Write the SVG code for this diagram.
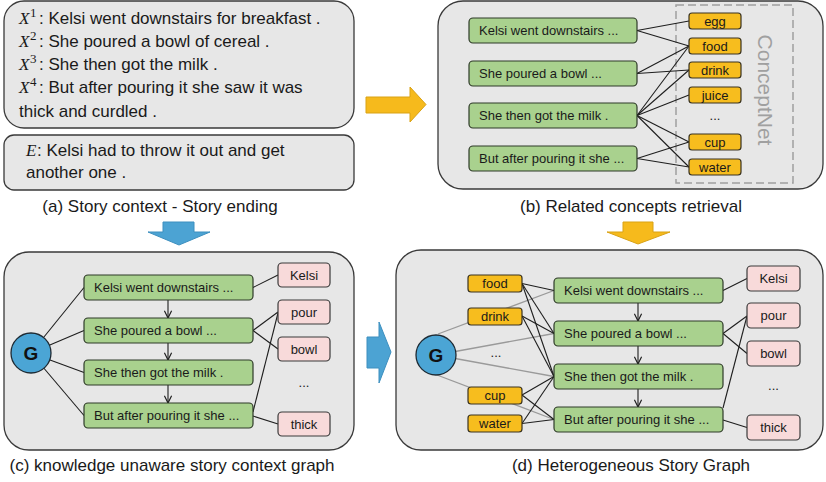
<svg xmlns="http://www.w3.org/2000/svg" width="826" height="482" viewBox="0 0 826 482">
<defs>
<style>
.panel{fill:#e7e7e7;stroke:#3a3a3a;stroke-width:1.3}
.gn{fill:#a9d18e;stroke:#2e3a28;stroke-width:1.2}
.on{fill:#f7bd1e;stroke:#3a3320;stroke-width:1.2}
.pn{fill:#f8dada;stroke:#3a3a3a;stroke-width:1.2}
.gc{fill:#4ba5d5;stroke:#1e2a33;stroke-width:1.3}
.t{font-family:"Liberation Sans",Arial,sans-serif;font-size:13px;fill:#1a1a1a}
.c{text-anchor:middle}
.big{font-family:"Liberation Sans",Arial,sans-serif;font-size:17px;fill:#1a1a1a}
.ser{font-family:"Liberation Serif","Times New Roman",serif;font-style:italic}
.sup{font-family:"Liberation Serif","Times New Roman",serif;font-size:13px}
.e{stroke:#1e1e1e;stroke-width:1.1;fill:none}
.gr{stroke:#9a9a9a;stroke-width:1.3;fill:none}
.va{stroke:#1e1e1e;stroke-width:1.1;fill:none;marker-end:url(#v)}
.ba{fill:#4ca3d3;stroke:#3d8fbf;stroke-width:1}
.ya{fill:#f6ba1c;stroke:#d9a215;stroke-width:1}
.G{font-family:"Liberation Sans",Arial,sans-serif;font-size:19px;font-weight:bold;fill:#111;text-anchor:middle}
</style>
<marker id="v" viewBox="0 0 10 10" refX="9" refY="5" markerWidth="9" markerHeight="9" markerUnits="userSpaceOnUse" orient="auto">
<path d="M1,1 L9,5 L1,9" fill="none" stroke="#1e1e1e" stroke-width="1.3"/>
</marker>
</defs>

<!-- Panel (a) -->
<g id="panel-a">
<rect class="panel" x="4" y="1" width="350" height="127" rx="20"/>
<rect class="panel" x="4" y="135" width="350" height="55" rx="10"/>
<text class="big" x="19" y="24"><tspan class="ser">X</tspan><tspan class="sup" x="30" dy="-7">1</tspan><tspan x="39" dy="7">: Kelsi went downstairs for breakfast .</tspan></text>
<text class="big" x="19" y="47"><tspan class="ser">X</tspan><tspan class="sup" x="30" dy="-7">2</tspan><tspan x="39" dy="7">: She poured a bowl of cereal .</tspan></text>
<text class="big" x="19" y="70"><tspan class="ser">X</tspan><tspan class="sup" x="30" dy="-7">3</tspan><tspan x="39" dy="7">: She then got the milk .</tspan></text>
<text class="big" x="19" y="93"><tspan class="ser">X</tspan><tspan class="sup" x="30" dy="-7">4</tspan><tspan x="39" dy="7">: But after pouring it she saw it was</tspan></text>
<text class="big" x="19" y="117">thick and curdled .</text>
<text class="big" x="26" y="156"><tspan class="ser">E</tspan><tspan x="37">: Kelsi had to throw it out and get</tspan></text>
<text class="big" x="26" y="178">another one .</text>
<text class="big c" x="160" y="212">(a) Story context - Story ending</text>
</g>

<!-- Arrows between panels -->
<g id="arrows">
<path class="ya" d="M366,97 H410 V87 L426,104.5 L410,122 V113 H366 Z"/>
<path class="ba" d="M163,222 H194 V232 H210 L179,245 L148,232 H163 Z"/>
<path class="ya" d="M623,222 H653 V232 H670 L638,244 L607,232 H623 Z"/>
<path class="ba" d="M367,337 H379 V322 L391,352 L379,383 V368 H367 Z"/>
</g>

<!-- Panel (b) -->
<g id="panel-b">
<rect class="panel" x="438" y="1" width="385" height="188" rx="25"/>
<rect x="676" y="5" width="117" height="178" fill="none" stroke="#a0a0a0" stroke-width="1.5" stroke-dasharray="8,4"/>
<text x="0" y="0" transform="translate(758,90) rotate(90)" font-family="Liberation Sans,Arial,sans-serif" font-size="21" fill="#a0a0a0" text-anchor="middle">ConceptNet</text>
<text class="big c" x="631" y="212">(b) Related concepts retrieval</text>
</g>

<g id="connectors-b">
<line class="e" x1="637" y1="30.5" x2="689" y2="21"/>
<line class="e" x1="637" y1="30.5" x2="689" y2="46"/>
<line class="e" x1="637" y1="73.5" x2="689" y2="46"/>
<line class="e" x1="637" y1="73.5" x2="689" y2="70"/>
<line class="e" x1="637" y1="115.5" x2="689" y2="46"/>
<line class="e" x1="637" y1="115.5" x2="689" y2="70"/>
<line class="e" x1="637" y1="115.5" x2="689" y2="95"/>
<line class="e" x1="637" y1="115.5" x2="689" y2="142"/>
<line class="e" x1="637" y1="115.5" x2="689" y2="167"/>
<line class="e" x1="637" y1="158.5" x2="689" y2="142"/>
<line class="e" x1="637" y1="158.5" x2="689" y2="167"/>
</g>

<g id="b-s1"><rect class="gn" x="469" y="18" width="168" height="25" rx="4"/><text class="t" x="479" y="35">Kelsi went downstairs ...</text></g>
<g id="b-s2"><rect class="gn" x="469" y="61" width="168" height="25" rx="4"/><text class="t" x="479" y="78">She poured a bowl ...</text></g>
<g id="b-s3"><rect class="gn" x="469" y="103" width="168" height="25" rx="4"/><text class="t" x="479" y="120">She then got the milk .</text></g>
<g id="b-s4"><rect class="gn" x="469" y="146" width="168" height="25" rx="4"/><text class="t" x="479" y="163">But after pouring it she ...</text></g>
<g id="b-egg"><rect class="on" x="689" y="13" width="52" height="16" rx="3"/><text class="t c" x="715" y="26">egg</text></g>
<g id="b-food"><rect class="on" x="689" y="38" width="52" height="16" rx="3"/><text class="t c" x="715" y="51">food</text></g>
<g id="b-drink"><rect class="on" x="689" y="62" width="52" height="16" rx="3"/><text class="t c" x="715" y="75">drink</text></g>
<g id="b-juice"><rect class="on" x="689" y="87" width="52" height="16" rx="3"/><text class="t c" x="715" y="100">juice</text></g>
<g id="b-dots"><text class="t c" x="715" y="120">...</text></g>
<g id="b-cup"><rect class="on" x="689" y="134" width="52" height="16" rx="3"/><text class="t c" x="715" y="147">cup</text></g>
<g id="b-water"><rect class="on" x="689" y="159" width="52" height="16" rx="3"/><text class="t c" x="715" y="172">water</text></g>

<!-- Panel (c) -->
<g id="panel-c">
<rect class="panel" x="4" y="252" width="350" height="198" rx="25"/>
<text class="big c" x="172" y="471">(c) knowledge unaware story context graph</text>
</g>

<g id="connectors-c">
<line class="e" x1="31" y1="353" x2="84" y2="287.5"/>
<line class="e" x1="31" y1="353" x2="84" y2="330.5"/>
<line class="e" x1="31" y1="353" x2="84" y2="372.5"/>
<line class="e" x1="31" y1="353" x2="84" y2="415.5"/>
<line class="va" x1="168" y1="300" x2="168" y2="318"/>
<line class="va" x1="168" y1="343" x2="168" y2="360"/>
<line class="va" x1="168" y1="385" x2="168" y2="403"/>
<line class="e" x1="253" y1="287.5" x2="278" y2="275"/>
<line class="e" x1="253" y1="330.5" x2="278" y2="312"/>
<line class="e" x1="253" y1="330.5" x2="278" y2="349"/>
<line class="e" x1="253" y1="412" x2="278" y2="313"/>
<line class="e" x1="253" y1="416" x2="278" y2="424"/>
</g>

<g id="c-G"><circle class="gc" cx="31" cy="353" r="20"/><text class="G" x="31" y="360">G</text></g>
<g id="c-s1"><rect class="gn" x="84" y="275" width="169" height="25" rx="4"/><text class="t" x="94" y="292">Kelsi went downstairs ...</text></g>
<g id="c-s2"><rect class="gn" x="84" y="318" width="169" height="25" rx="4"/><text class="t" x="94" y="335">She poured a bowl ...</text></g>
<g id="c-s3"><rect class="gn" x="84" y="360" width="169" height="25" rx="4"/><text class="t" x="94" y="377">She then got the milk .</text></g>
<g id="c-s4"><rect class="gn" x="84" y="403" width="169" height="25" rx="4"/><text class="t" x="94" y="420">But after pouring it she ...</text></g>
<g id="c-kelsi"><rect class="pn" x="278" y="263" width="52" height="24" rx="4"/><text class="t c" x="304" y="279.5">Kelsi</text></g>
<g id="c-pour"><rect class="pn" x="278" y="300" width="52" height="24" rx="4"/><text class="t c" x="304" y="316.5">pour</text></g>
<g id="c-bowl"><rect class="pn" x="278" y="337" width="52" height="24" rx="4"/><text class="t c" x="304" y="353.5">bowl</text></g>
<g id="c-dots"><text class="t c" x="304" y="387">...</text></g>
<g id="c-thick"><rect class="pn" x="278" y="412" width="52" height="24" rx="4"/><text class="t c" x="304" y="428.5">thick</text></g>

<!-- Panel (d) -->
<g id="panel-d">
<rect class="panel" x="396" y="250" width="427" height="200" rx="25"/>
<text class="big c" x="631" y="471">(d) Heterogeneous Story Graph</text>
</g>

<g id="connectors-d">
<line class="gr" x1="438" y1="334" x2="554" y2="290.5"/>
<line class="gr" x1="436" y1="355" x2="554" y2="333.5"/>
<line class="gr" x1="436" y1="355" x2="554" y2="376.5"/>
<line class="gr" x1="437" y1="375" x2="554" y2="419.5"/>
<line class="e" x1="522" y1="283.5" x2="554" y2="290.5"/>
<line class="e" x1="522" y1="283.5" x2="554" y2="333.5"/>
<line class="e" x1="522" y1="283.5" x2="554" y2="376.5"/>
<line class="e" x1="522" y1="316" x2="554" y2="333.5"/>
<line class="e" x1="522" y1="316" x2="554" y2="376.5"/>
<line class="e" x1="522" y1="395" x2="554" y2="376.5"/>
<line class="e" x1="522" y1="395" x2="554" y2="419.5"/>
<line class="e" x1="522" y1="423.5" x2="554" y2="376.5"/>
<line class="e" x1="522" y1="423.5" x2="554" y2="419.5"/>
<line class="va" x1="638" y1="303" x2="638" y2="321"/>
<line class="va" x1="638" y1="346" x2="638" y2="364"/>
<line class="va" x1="638" y1="389" x2="638" y2="407"/>
<line class="e" x1="723" y1="290.5" x2="747" y2="278.5"/>
<line class="e" x1="723" y1="333.5" x2="747" y2="316"/>
<line class="e" x1="723" y1="333.5" x2="747" y2="353.5"/>
<line class="e" x1="723" y1="408" x2="747" y2="316"/>
<line class="e" x1="723" y1="420" x2="747" y2="427.5"/>
</g>

<g id="d-G"><circle class="gc" cx="436" cy="355" r="20"/><text class="G" x="436" y="362">G</text></g>
<g id="d-food"><rect class="on" x="468" y="275" width="54" height="17" rx="3"/><text class="t c" x="495" y="288">food</text></g>
<g id="d-drink"><rect class="on" x="468" y="308" width="54" height="17" rx="3"/><text class="t c" x="495" y="321">drink</text></g>
<g id="d-dots"><text class="t c" x="496" y="357">...</text></g>
<g id="d-cup"><rect class="on" x="468" y="387" width="54" height="17" rx="3"/><text class="t c" x="495" y="400">cup</text></g>
<g id="d-water"><rect class="on" x="468" y="415" width="54" height="17" rx="3"/><text class="t c" x="495" y="428">water</text></g>
<g id="d-s1"><rect class="gn" x="554" y="278" width="169" height="25" rx="4"/><text class="t" x="564" y="295">Kelsi went downstairs ...</text></g>
<g id="d-s2"><rect class="gn" x="554" y="321" width="169" height="25" rx="4"/><text class="t" x="564" y="338">She poured a bowl ...</text></g>
<g id="d-s3"><rect class="gn" x="554" y="364" width="169" height="25" rx="4"/><text class="t" x="564" y="381">She then got the milk .</text></g>
<g id="d-s4"><rect class="gn" x="554" y="407" width="169" height="25" rx="4"/><text class="t" x="564" y="424">But after pouring it she ...</text></g>
<g id="d-kelsi"><rect class="pn" x="747" y="266" width="53" height="25" rx="4"/><text class="t c" x="773.5" y="283">Kelsi</text></g>
<g id="d-pour"><rect class="pn" x="747" y="303" width="53" height="25" rx="4"/><text class="t c" x="773.5" y="320">pour</text></g>
<g id="d-bowl"><rect class="pn" x="747" y="341" width="53" height="25" rx="4"/><text class="t c" x="773.5" y="358">bowl</text></g>
<g id="d-dots2"><text class="t c" x="773.5" y="390">...</text></g>
<g id="d-thick"><rect class="pn" x="747" y="415" width="53" height="25" rx="4"/><text class="t c" x="773.5" y="432">thick</text></g>
</svg>
